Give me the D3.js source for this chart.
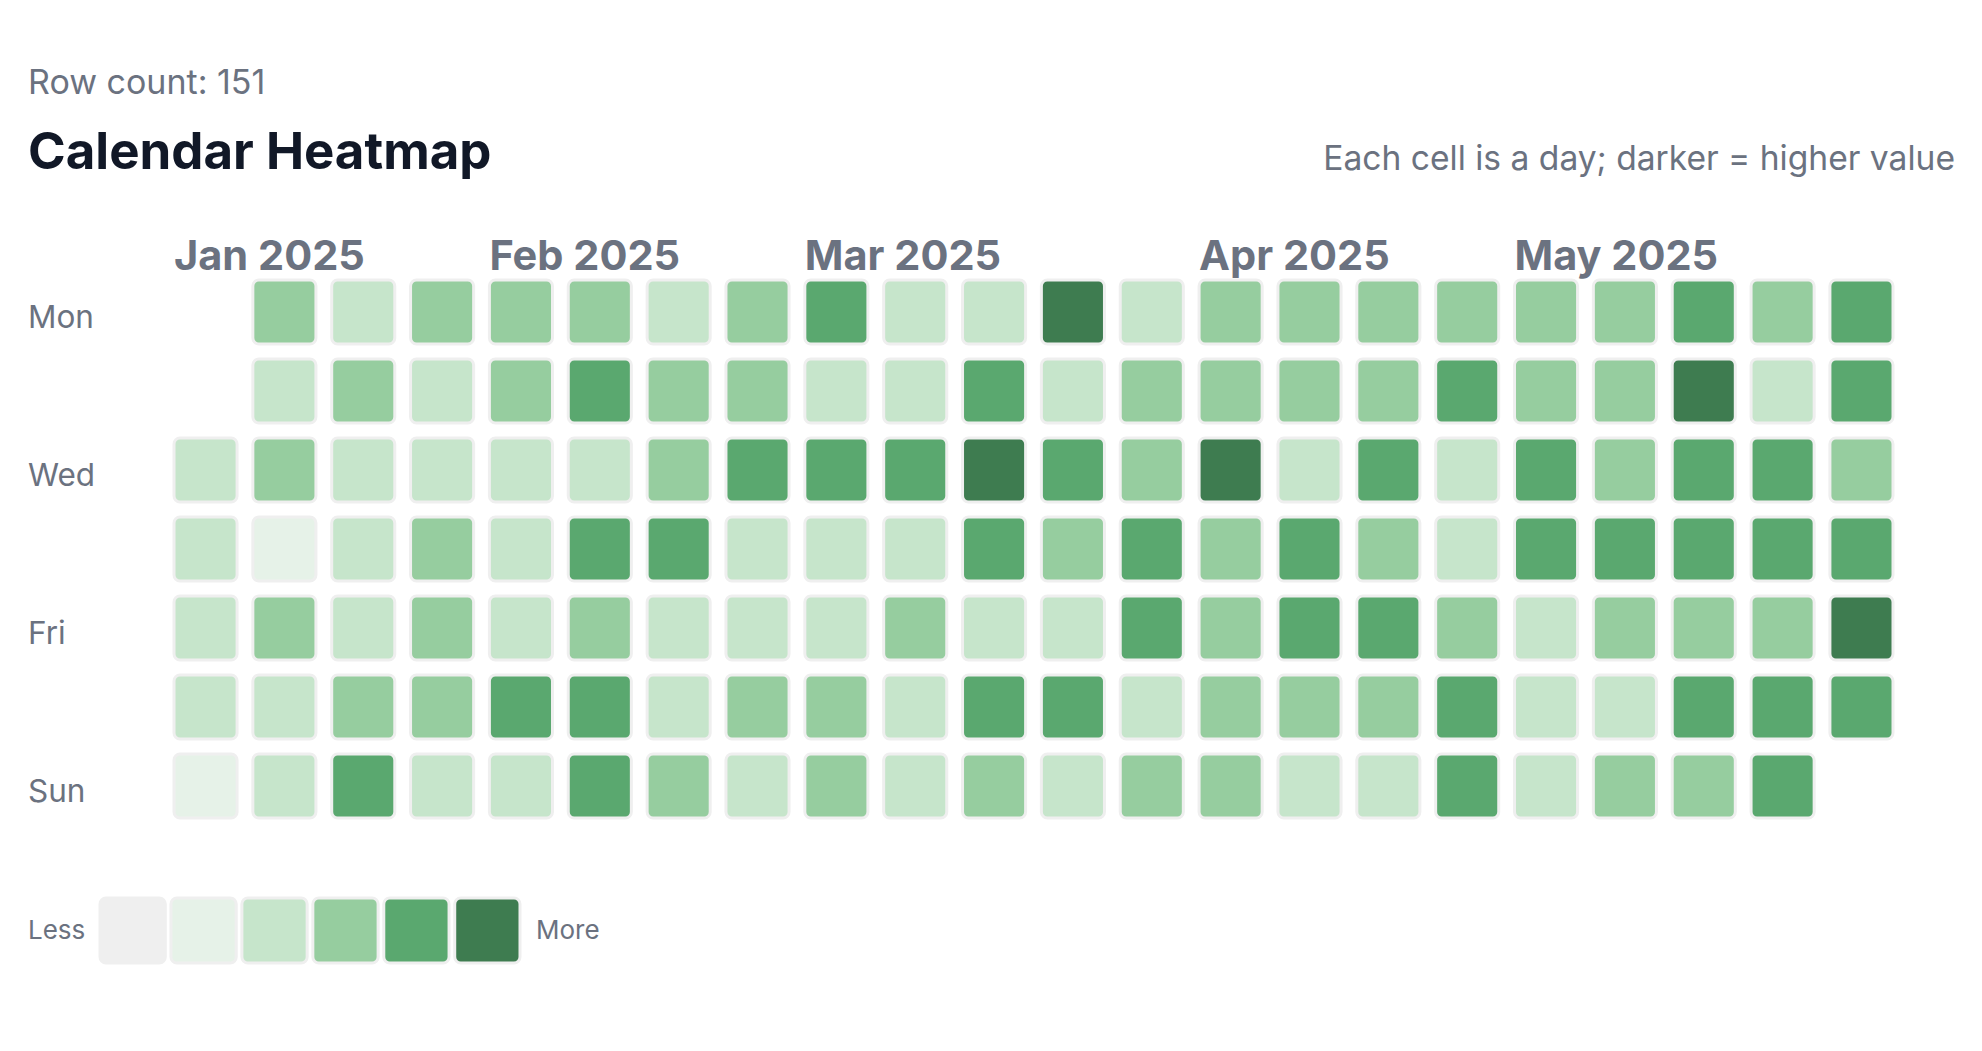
<!DOCTYPE html>
<html>
<head>
<meta charset="utf-8">
<script src="https://cdn.jsdelivr.net/npm/d3@7"></script>
<style>
  html, body { margin: 0; padding: 0; background: #fff; }
  svg { display: block; font-family: Inter, "Noto Sans", sans-serif; }
</style>
</head>
<body>
<svg id="chart" width="1982" height="1051"></svg>
<script>
"use strict";

// daily values (activity level 1..5), Jan 1 - May 31 2025
const jan = [2,2,2,2,1, 3,2,3,1,3,2,2, 2,3,2,2,2,3,4, 3,2,2,3,3,3,2, 3,3,2,2,2]
const feb = [4,2, 3,4,2,4,3,4,4, 2,3,3,4,2,2,3, 3,3,4,2,2,3,2, 4,2,4,2,2]
const mar = [3,3, 2,2,4,2,3,2,2, 2,4,5,4,2,4,3, 5,2,4,3,2,4,2, 2,3,3,4,4,2,3, 3]
const apr = [3,5,3,3,3,3, 3,3,2,4,4,3,2, 3,3,4,3,4,3,2, 3,4,2,2,3,4,4, 3,3,4]
const may = [4,2,2,2, 3,3,3,4,3,2,3, 4,5,4,4,3,4,3, 3,2,4,4,3,4,4, 4,4,3,4,5,4]

const day_labels = ['Mon', '', 'Wed', '', 'Fri', '', 'Sun']
const levels = [0, 1, 2, 3, 4, 5]
const palette = ['#efefef', '#e6f2e8', '#c6e5cb', '#96cd9f', '#5aa86f', '#3e7c50']

const start = new Date(2025, 0, 1)
const values = [].concat(jan, feb, mar, apr, may)
const days = values.map((v, i) => ({ date: d3.timeDay.offset(start, i), value: v }))

const first_monday = d3.timeMonday.floor(start)
const week_of = d => d3.timeMonday.count(first_monday, d)
const dow_of = d => (d.getDay() + 6) % 7
const n_weeks = week_of(days[days.length - 1].date) + 1

const svg = d3.select('#chart')
const gray = '#6b7280'

const color = d3.scaleOrdinal().domain(levels).range(palette)

const x = d3.scaleBand()
   .domain(d3.range(n_weeks))
   .range([174, 1893])
   .paddingInner(0.2)

const y = d3.scaleBand()
   .domain(d3.range(7))
   .range([280, 818])
   .paddingInner(0.19)

// header
svg.append('text')
   .attr('x', 28).attr('y', 94)
   .attr('fill', gray)
   .style('font-size', '34px')
   .text(`Row count: ${days.length}`)

svg.append('text')
   .attr('x', 28).attr('y', 169)
   .attr('fill', '#111827')
   .style('font-size', '51px')
   .style('font-weight', 700)
   .text('Calendar Heatmap')

svg.append('text')
   .attr('x', 1955).attr('y', 170)
   .attr('text-anchor', 'end')
   .attr('fill', gray)
   .style('font-size', '33.6px')
   .text('Each cell is a day; darker = higher value')

// month labels
const months = d3.timeMonths(start, d3.timeDay.offset(days[days.length - 1].date, 1))
svg.append('g')
   .selectAll('text')
   .data(months)
   .enter().append('text')
      .attr('x', d => x(week_of(d)))
      .attr('y', 270)
      .attr('fill', gray)
      .style('font-size', '41.5px')
      .style('font-weight', 700)
      .text(d => d3.timeFormat('%b %Y')(d))

// weekday labels
svg.append('g')
   .selectAll('text')
   .data(day_labels)
   .enter().append('text')
      .attr('x', 28)
      .attr('y', (d, i) => y(i) + y.bandwidth() / 2 + 5)
      .attr('dy', '0.35em')
      .attr('fill', gray)
      .style('font-size', '31.5px')
      .text(d => d)

// cells
svg.append('g')
   .selectAll('rect')
   .data(days)
   .enter().append('rect')
      .attr('x', d => x(week_of(d.date)))
      .attr('y', d => y(dow_of(d.date)))
      .attr('width', x.bandwidth())
      .attr('height', y.bandwidth())
      .attr('rx', 6)
      .attr('fill', d => color(d.value))
      .attr('stroke', '#efefef')
      .attr('stroke-width', 3)

// legend
const lx = d3.scaleBand()
   .domain(levels)
   .range([100, 520])
   .paddingInner(0.08)

let legend = svg.append('g')
legend.append('text')
   .attr('x', 28).attr('y', 930)
   .attr('dy', '0.35em')
   .attr('fill', gray)
   .style('font-size', '26px')
   .text('Less')
legend.selectAll('rect')
   .data(levels)
   .enter().append('rect')
      .attr('x', d => lx(d))
      .attr('y', 898)
      .attr('width', lx.bandwidth())
      .attr('height', 65)
      .attr('rx', 6)
      .attr('fill', d => color(d))
      .attr('stroke', '#efefef')
      .attr('stroke-width', 3)
legend.append('text')
   .attr('x', 536).attr('y', 930)
   .attr('dy', '0.35em')
   .attr('fill', gray)
   .style('font-size', '26px')
   .text('More')
</script>
</body>
</html>
